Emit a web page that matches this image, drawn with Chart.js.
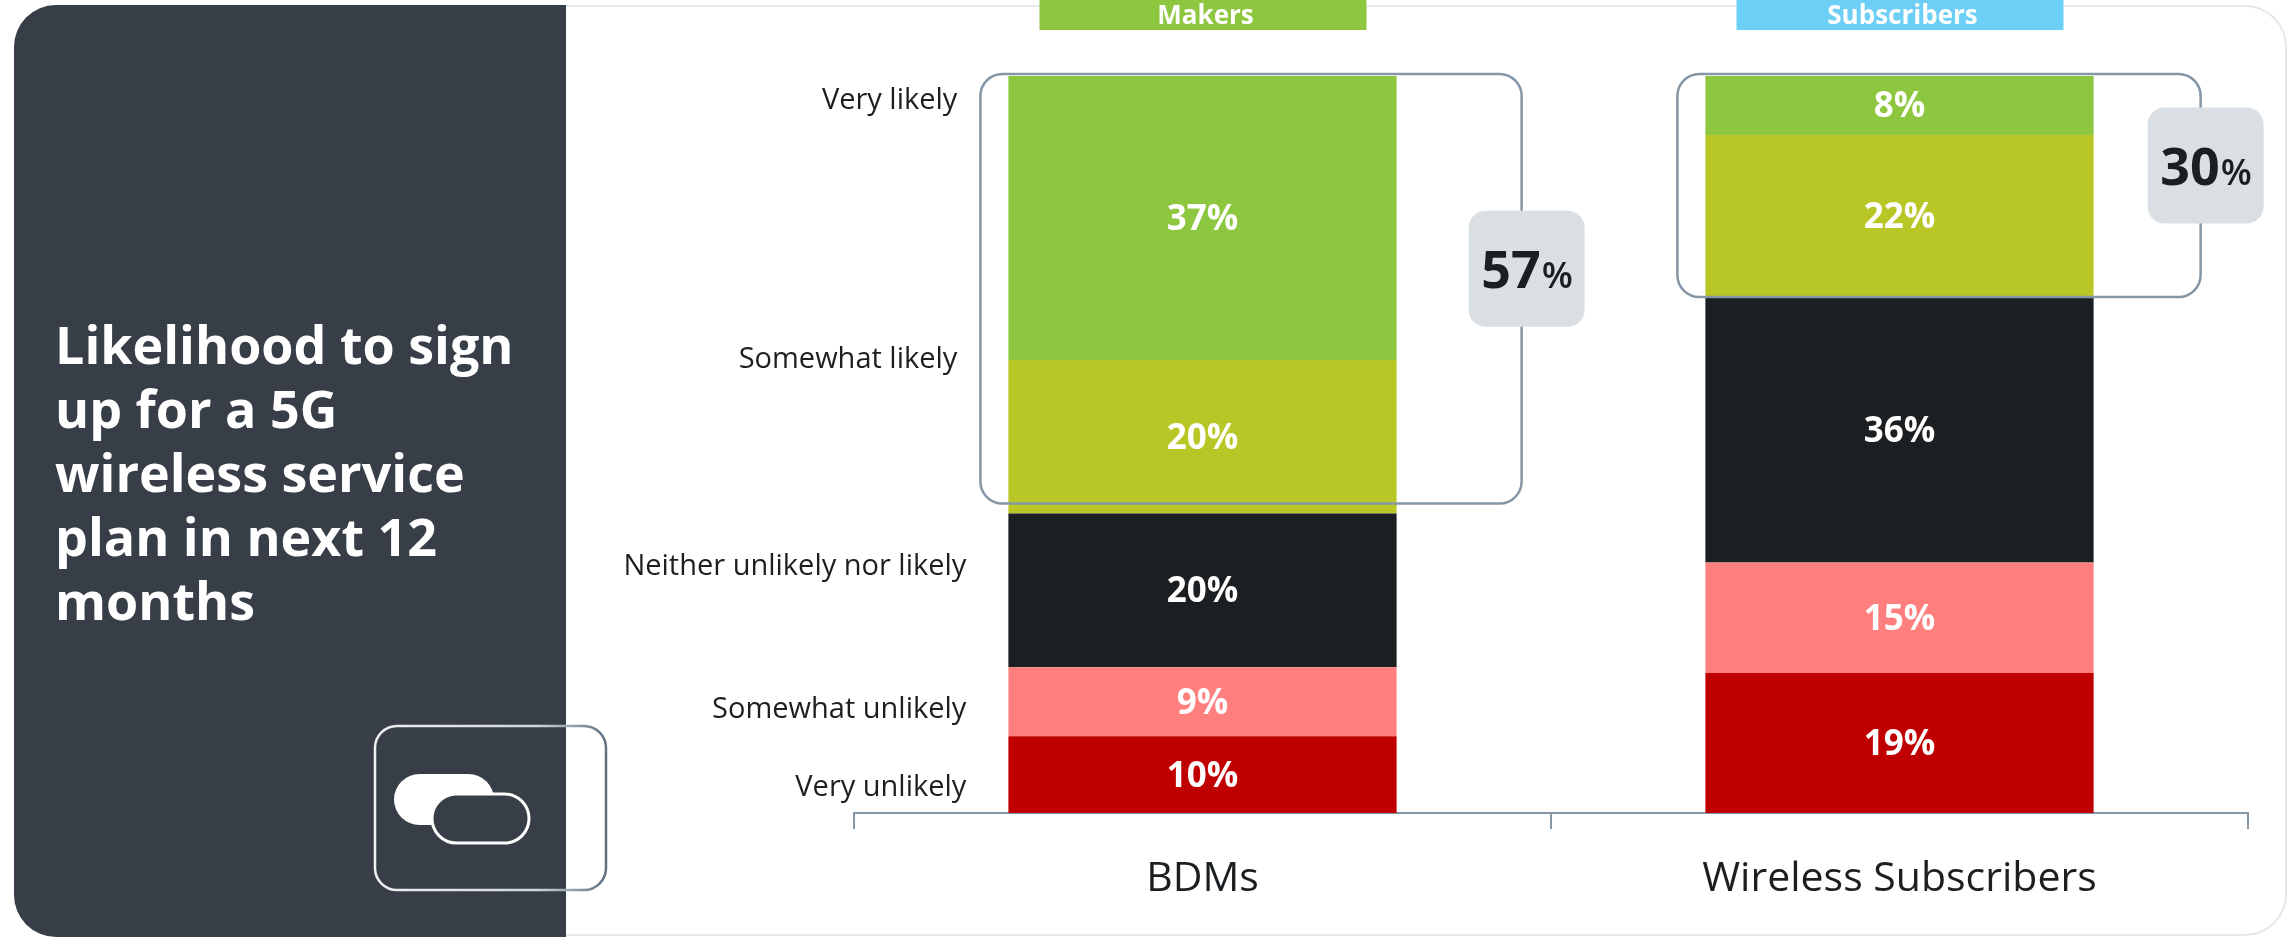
<!DOCTYPE html>
<html><head><meta charset="utf-8">
<script src="https://cdn.jsdelivr.net/npm/chart.js@4.4.0/dist/chart.umd.min.js"></script>
<style>
html,body{margin:0;padding:0;background:#fff;width:2290px;height:937px;overflow:hidden;}
#card{position:absolute;left:14px;top:5px;width:2273px;height:931px;border:2px solid #e4e8eb;border-radius:42px;box-sizing:border-box;background:#fff;}
#panel{position:absolute;left:14px;top:5px;width:552px;height:932px;background:#373e47;border-radius:42px 0 0 42px;}
#title{position:absolute;left:55px;top:312px;color:#fff;font-family:'Open Sans';font-weight:700;font-size:52px;line-height:64px;white-space:nowrap;}
#icon{position:absolute;left:0;top:0;}
#c{position:absolute;left:0;top:0;}
</style></head>
<body>
<div id="card"></div>
<div id="panel"></div>
<div id="title">Likelihood to sign<br>up for a 5G<br>wireless service<br>plan in next 12<br>months</div>
<svg id="icon" width="2290" height="937">
<defs><linearGradient id="g" x1="375" y1="0" x2="606" y2="0" gradientUnits="userSpaceOnUse"><stop offset="0" stop-color="#eef0f2"/><stop offset="0.7" stop-color="#d0d6db"/><stop offset="1" stop-color="#5f7080"/></linearGradient></defs>
<rect x="375" y="726" width="231" height="164" rx="22" fill="none" stroke="url(#g)" stroke-width="2.5"/>
<rect x="394" y="774" width="100" height="51" rx="25.5" fill="#fff"/>
<rect x="432" y="794" width="97" height="49" rx="24.5" fill="#373e47" stroke="#fff" stroke-width="3"/>
</svg>
<canvas id="c" width="2290" height="937"></canvas>
<script>
// ---- data ----
const categories = ['BDMs', 'Wireless Subscribers'];
const groupHeaders = ['Makers', 'Subscribers'];
const seriesNames = ['Very unlikely', 'Somewhat unlikely', 'Neither unlikely nor likely', 'Somewhat likely', 'Very likely'];
const veryUnlikely = [10, 19];
const somewhatUnlikely = [9, 15];
const neitherLikely = [20, 36];
const somewhatLikely = [20, 22];
const veryLikely = [37, 8];
// where each series name sits on the left (in % of the BDMs column)
const seriesLabelAnchor = [3.4, 14, 33.4, 61.5, 96.7];

// ---- styles ----
const seriesColors = ['#c00000', '#ff7f7f', '#1b1f22', '#b9c726', '#8dc63f'];
const headerColors = ['#8dc63f', '#6dcff6'];
const labelRightGap = [42, 42, 42, 51, 51];
const boxRightExtra = [125, 107];
const boxBottomAdjust = [-10, 0];
const FONT = "'Open Sans'";

const seriesValues = [veryUnlikely, somewhatUnlikely, neitherLikely, somewhatLikely, veryLikely];
const totals = categories.map((_, i) => seriesValues.reduce((s, arr) => s + arr[i], 0));
const topTwo = categories.map((_, i) => veryLikely[i] + somewhatLikely[i]);

const datasets = seriesValues.map((vals, k) => ({
  label: seriesNames[k],
  data: vals.map((v, i) => v / totals[i] * 100),
  raw: vals,
  backgroundColor: seriesColors[k],
  borderWidth: 0,
  categoryPercentage: 0.557,
  barPercentage: 1
}));

function roundRect(ctx, x, y, w, h, r) {
  ctx.beginPath();
  ctx.moveTo(x + r, y);
  ctx.arcTo(x + w, y, x + w, y + h, r);
  ctx.arcTo(x + w, y + h, x, y + h, r);
  ctx.arcTo(x, y + h, x, y, r);
  ctx.arcTo(x, y, x + w, y, r);
  ctx.closePath();
}

const decor = {
  id: 'decor',
  afterDatasetsDraw(chart) {
    const ctx = chart.ctx;
    const ys = chart.scales.y;
    // segment labels
    chart.data.datasets.forEach((ds, k) => {
      const meta = chart.getDatasetMeta(k);
      meta.data.forEach((el, i) => {
        ctx.save();
        ctx.fillStyle = '#ffffff';
        ctx.font = `700 35px ${FONT}`;
        ctx.textAlign = 'center';
        ctx.textBaseline = 'middle';
        ctx.fillText(ds.raw[i] + '%', el.x, (el.y + el.base) / 2 + 2);
        ctx.restore();
      });
    });
    // series names on left of first column
    const first = chart.getDatasetMeta(0).data[0];
    const barLeft = first.x - first.width / 2;
    seriesNames.forEach((name, k) => {
      ctx.save();
      ctx.fillStyle = '#1b1f22';
      ctx.font = `400 29px ${FONT}`;
      ctx.textAlign = 'right';
      ctx.textBaseline = 'middle';
      ctx.fillText(name, barLeft - labelRightGap[k], ys.getPixelForValue(seriesLabelAnchor[k]));
      ctx.restore();
    });
    // headers, boxes and badges
    categories.forEach((c, i) => {
      const top = chart.getDatasetMeta(4).data[i];
      const mid = chart.getDatasetMeta(3).data[i];
      const left = top.x - top.width / 2;
      const right = top.x + top.width / 2;
      // header tab
      ctx.save();
      ctx.fillStyle = headerColors[i];
      ctx.fillRect(top.x - 163, 0, 327, 30);
      ctx.fillStyle = '#ffffff';
      ctx.font = `700 26px ${FONT}`;
      ctx.textAlign = 'center';
      ctx.textBaseline = 'alphabetic';
      ctx.fillText(groupHeaders[i], top.x + 3, 24);
      ctx.restore();
      // box around the likely segments
      const bx = left - 28, by = top.y - 2, bw = right + boxRightExtra[i] - bx, bh = mid.base + boxBottomAdjust[i] - by;
      ctx.save();
      ctx.strokeStyle = '#8596a6';
      ctx.lineWidth = 2.5;
      roundRect(ctx, bx, by, bw, bh, 22);
      ctx.stroke();
      // badge
      const cx = bx + bw + 5, cy = by + bh / 2 - 20;
      ctx.fillStyle = '#d9dfe2';
      roundRect(ctx, cx - 58, cy - 58, 116, 116, 17);
      ctx.fill();
      ctx.fillStyle = '#1b1f22';
      const big = String(topTwo[i]);
      ctx.font = `700 52px ${FONT}`;
      const w1 = ctx.measureText(big).width;
      ctx.font = `600 36px ${FONT}`;
      const w2 = ctx.measureText('%').width;
      const sx = cx - (w1 + w2) / 2;
      ctx.textBaseline = 'alphabetic';
      ctx.textAlign = 'left';
      ctx.font = `700 52px ${FONT}`;
      ctx.fillText(big, sx, cy + 19);
      ctx.font = `600 36px ${FONT}`;
      ctx.fillText('%', sx + w1 + 1, cy + 19);
      ctx.restore();
    });
  }
};

new Chart(document.getElementById('c'), {
  type: 'bar',
  data: { labels: categories, datasets },
  options: {
    responsive: false,
    animation: false,
    layout: { padding: { left: 854, right: 42, top: 76, bottom: 0 } },
    plugins: { legend: { display: false }, tooltip: { enabled: false } },
    scales: {
      x: {
        stacked: true,
        offset: true,
        grid: { display: true, offset: true, drawOnChartArea: false, tickLength: 16, color: '#8596a6', lineWidth: 2 },
        border: { display: true, color: '#8596a6', width: 2 },
        ticks: { font: { family: 'Open Sans', size: 41 }, color: '#1b1f22', padding: 26 },
        afterFit(s) { s.height = 124; }
      },
      y: { stacked: true, display: false, min: 0, max: 100 }
    }
  },
  plugins: [decor]
});
</script>
</body></html>
